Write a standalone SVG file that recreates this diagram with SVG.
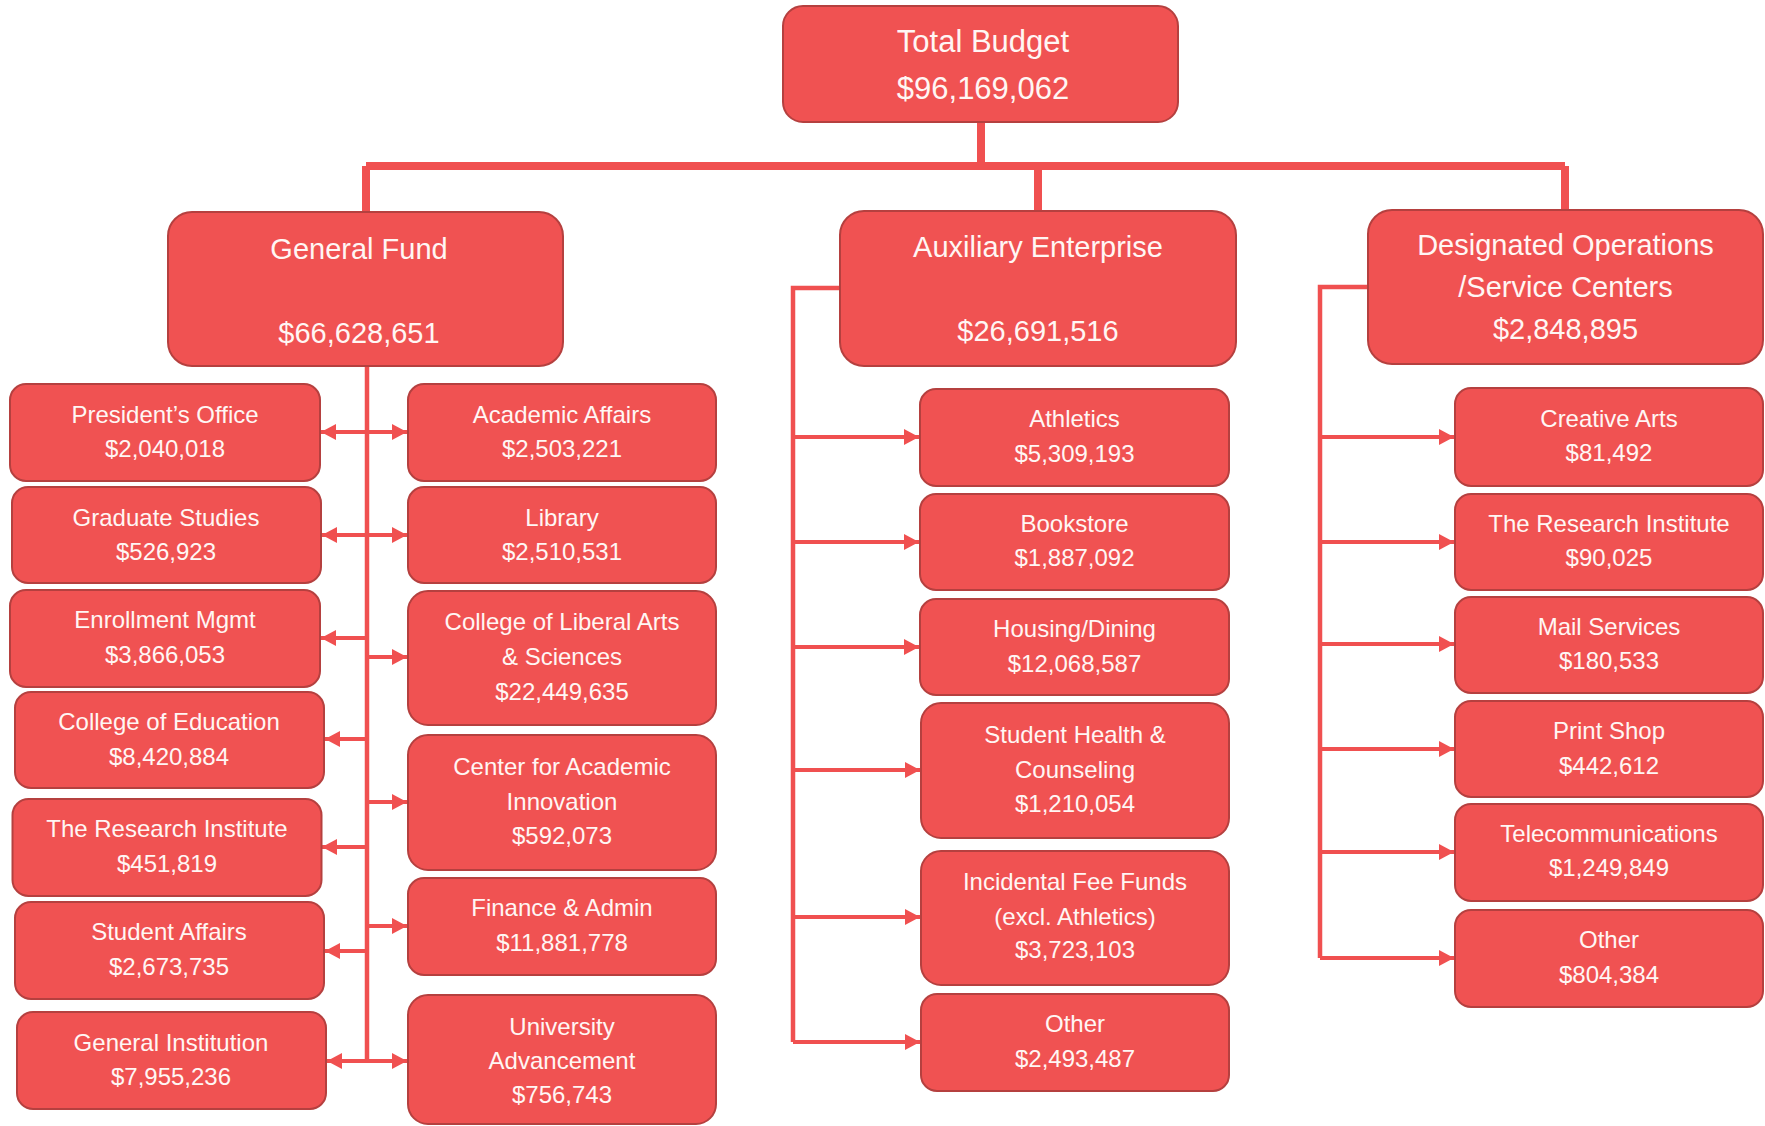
<svg xmlns="http://www.w3.org/2000/svg" width="1765" height="1126" viewBox="0 0 1765 1126">
<style>
.box{fill:#F05252;stroke:#B5403F;stroke-width:2}
.t{font-family:"Liberation Sans",Arial,sans-serif;fill:#FFF6F4;text-anchor:middle}
.big{font-size:29px}
.sm{font-size:24px}
.main{fill:none;stroke:#F05050;stroke-width:8}
.ln{fill:none;stroke:#F05050;stroke-width:4.5}
.arr{fill:none;stroke:#F05050;stroke-width:4;marker-end:url(#ah)}
.dbl{fill:none;stroke:#F05050;stroke-width:4;marker-end:url(#ah);marker-start:url(#ah)}
</style>
<defs>
<marker id="ah" markerUnits="userSpaceOnUse" markerWidth="16" markerHeight="18" refX="15" refY="8" orient="auto-start-reverse">
<path d="M0,0 L15,8 L0,16 Z" fill="#F05050"/>
</marker>
</defs>
<rect width="1765" height="1126" fill="#FFFFFF"/>

<g id="connectors">
<path class="main" d="M981,122 V166 M366,166 H1565 M366,166 V212 M1038,166 V211 M1565,166 V210"/>
<path class="ln" d="M367,366 V1062"/>
<path class="ln" d="M840,288 H793 V1042"/>
<path class="ln" d="M1368,287 H1320 V958"/>
<line class="dbl" x1="321" y1="432" x2="407" y2="432"/>
<line class="dbl" x1="322" y1="535" x2="407" y2="535"/>
<line class="arr" x1="367" y1="638" x2="321" y2="638"/>
<line class="arr" x1="367" y1="657" x2="407" y2="657"/>
<line class="arr" x1="367" y1="739" x2="325" y2="739"/>
<line class="arr" x1="367" y1="802" x2="407" y2="802"/>
<line class="arr" x1="367" y1="847" x2="322" y2="847"/>
<line class="arr" x1="367" y1="926" x2="407" y2="926"/>
<line class="arr" x1="367" y1="951" x2="325" y2="951"/>
<line class="dbl" x1="327" y1="1061" x2="407" y2="1061"/>
<line class="arr" x1="793" y1="437" x2="919" y2="437"/>
<line class="arr" x1="793" y1="542" x2="919" y2="542"/>
<line class="arr" x1="793" y1="647" x2="919" y2="647"/>
<line class="arr" x1="793" y1="770" x2="920" y2="770"/>
<line class="arr" x1="793" y1="917" x2="920" y2="917"/>
<line class="arr" x1="793" y1="1042" x2="920" y2="1042"/>
<line class="arr" x1="1320" y1="437" x2="1454" y2="437"/>
<line class="arr" x1="1320" y1="542" x2="1454" y2="542"/>
<line class="arr" x1="1320" y1="644" x2="1454" y2="644"/>
<line class="arr" x1="1320" y1="749" x2="1454" y2="749"/>
<line class="arr" x1="1320" y1="852" x2="1454" y2="852"/>
<line class="arr" x1="1320" y1="958" x2="1454" y2="958"/>
</g>

<g id="total-budget">
<rect class="box" x="783" y="6" width="395" height="116" rx="20"/>
<text class="t" x="983" y="52" font-size="31">Total Budget</text>
<text class="t" x="983" y="99" font-size="31">$96,169,062</text>
</g>

<g id="general-fund">
<rect class="box" x="168" y="212" width="395" height="154" rx="24"/>
<text class="t big" x="359" y="259">General Fund</text>
<text class="t big" x="359" y="343">$66,628,651</text>
</g>

<g id="auxiliary-enterprise">
<rect class="box" x="840" y="211" width="396" height="155" rx="24"/>
<text class="t big" x="1038" y="257">Auxiliary Enterprise</text>
<text class="t big" x="1038" y="341">$26,691,516</text>
</g>

<g id="designated-operations">
<rect class="box" x="1368" y="210" width="395" height="154" rx="24"/>
<text class="t big" x="1565.5" y="255">Designated Operations</text>
<text class="t big" x="1565.5" y="297">/Service Centers</text>
<text class="t big" x="1565.5" y="339">$2,848,895</text>
</g>

<g id="presidents-office">
<rect class="box" x="10" y="384" width="310" height="97" rx="16"/>
<text class="t sm" x="165" y="423">President’s Office</text>
<text class="t sm" x="165" y="457">$2,040,018</text>
</g>
<g id="graduate-studies">
<rect class="box" x="12" y="487" width="309" height="96" rx="16"/>
<text class="t sm" x="166" y="526">Graduate Studies</text>
<text class="t sm" x="166" y="560">$526,923</text>
</g>
<g id="enrollment-mgmt">
<rect class="box" x="10" y="590" width="310" height="97" rx="16"/>
<text class="t sm" x="165" y="628">Enrollment Mgmt</text>
<text class="t sm" x="165" y="663">$3,866,053</text>
</g>
<g id="college-of-education">
<rect class="box" x="15" y="692" width="309" height="96" rx="16"/>
<text class="t sm" x="169" y="730">College of Education</text>
<text class="t sm" x="169" y="765">$8,420,884</text>
</g>
<g id="research-institute-gf">
<rect class="box" x="12.5" y="799" width="309" height="97" rx="16"/>
<text class="t sm" x="167" y="837">The Research Institute</text>
<text class="t sm" x="167" y="872">$451,819</text>
</g>
<g id="student-affairs">
<rect class="box" x="15" y="902" width="309" height="97" rx="16"/>
<text class="t sm" x="169" y="940">Student Affairs</text>
<text class="t sm" x="169" y="975">$2,673,735</text>
</g>
<g id="general-institution">
<rect class="box" x="17" y="1012" width="309" height="97" rx="16"/>
<text class="t sm" x="171" y="1051">General Institution</text>
<text class="t sm" x="171" y="1085">$7,955,236</text>
</g>

<g id="academic-affairs">
<rect class="box" x="408" y="384" width="308" height="97" rx="16"/>
<text class="t sm" x="562" y="423">Academic Affairs</text>
<text class="t sm" x="562" y="457">$2,503,221</text>
</g>
<g id="library">
<rect class="box" x="408" y="487" width="308" height="96" rx="16"/>
<text class="t sm" x="562" y="526">Library</text>
<text class="t sm" x="562" y="560">$2,510,531</text>
</g>
<g id="liberal-arts">
<rect class="box" x="408" y="591" width="308" height="134" rx="20"/>
<text class="t sm" x="562" y="630">College of Liberal Arts</text>
<text class="t sm" x="562" y="665">&amp; Sciences</text>
<text class="t sm" x="562" y="700">$22,449,635</text>
</g>
<g id="academic-innovation">
<rect class="box" x="408" y="735" width="308" height="135" rx="20"/>
<text class="t sm" x="562" y="775">Center for Academic</text>
<text class="t sm" x="562" y="810">Innovation</text>
<text class="t sm" x="562" y="844">$592,073</text>
</g>
<g id="finance-admin">
<rect class="box" x="408" y="878" width="308" height="97" rx="16"/>
<text class="t sm" x="562" y="916">Finance &amp; Admin</text>
<text class="t sm" x="562" y="951">$11,881,778</text>
</g>
<g id="university-advancement">
<rect class="box" x="408" y="995" width="308" height="129" rx="20"/>
<text class="t sm" x="562" y="1035">University</text>
<text class="t sm" x="562" y="1069">Advancement</text>
<text class="t sm" x="562" y="1103">$756,743</text>
</g>

<g id="athletics">
<rect class="box" x="920" y="389" width="309" height="97" rx="16"/>
<text class="t sm" x="1074.5" y="427">Athletics</text>
<text class="t sm" x="1074.5" y="462">$5,309,193</text>
</g>
<g id="bookstore">
<rect class="box" x="920" y="494" width="309" height="96" rx="16"/>
<text class="t sm" x="1074.5" y="532">Bookstore</text>
<text class="t sm" x="1074.5" y="566">$1,887,092</text>
</g>
<g id="housing-dining">
<rect class="box" x="920" y="599" width="309" height="96" rx="16"/>
<text class="t sm" x="1074.5" y="637">Housing/Dining</text>
<text class="t sm" x="1074.5" y="672">$12,068,587</text>
</g>
<g id="student-health">
<rect class="box" x="921" y="703" width="308" height="135" rx="20"/>
<text class="t sm" x="1075" y="743">Student Health &amp;</text>
<text class="t sm" x="1075" y="778">Counseling</text>
<text class="t sm" x="1075" y="812">$1,210,054</text>
</g>
<g id="incidental-fee">
<rect class="box" x="921" y="851" width="308" height="134" rx="20"/>
<text class="t sm" x="1075" y="890">Incidental Fee Funds</text>
<text class="t sm" x="1075" y="925">(excl. Athletics)</text>
<text class="t sm" x="1075" y="958">$3,723,103</text>
</g>
<g id="other-aux">
<rect class="box" x="921" y="994" width="308" height="97" rx="16"/>
<text class="t sm" x="1075" y="1032">Other</text>
<text class="t sm" x="1075" y="1067">$2,493,487</text>
</g>

<g id="creative-arts">
<rect class="box" x="1455" y="388" width="308" height="98" rx="16"/>
<text class="t sm" x="1609" y="427">Creative Arts</text>
<text class="t sm" x="1609" y="461">$81,492</text>
</g>
<g id="research-institute-do">
<rect class="box" x="1455" y="494" width="308" height="96" rx="16"/>
<text class="t sm" x="1609" y="532">The Research Institute</text>
<text class="t sm" x="1609" y="566">$90,025</text>
</g>
<g id="mail-services">
<rect class="box" x="1455" y="597" width="308" height="96" rx="16"/>
<text class="t sm" x="1609" y="635">Mail Services</text>
<text class="t sm" x="1609" y="669">$180,533</text>
</g>
<g id="print-shop">
<rect class="box" x="1455" y="701" width="308" height="96" rx="16"/>
<text class="t sm" x="1609" y="739">Print Shop</text>
<text class="t sm" x="1609" y="774">$442,612</text>
</g>
<g id="telecommunications">
<rect class="box" x="1455" y="804" width="308" height="97" rx="16"/>
<text class="t sm" x="1609" y="842">Telecommunications</text>
<text class="t sm" x="1609" y="876">$1,249,849</text>
</g>
<g id="other-do">
<rect class="box" x="1455" y="910" width="308" height="97" rx="16"/>
<text class="t sm" x="1609" y="948">Other</text>
<text class="t sm" x="1609" y="983">$804,384</text>
</g>
</svg>
